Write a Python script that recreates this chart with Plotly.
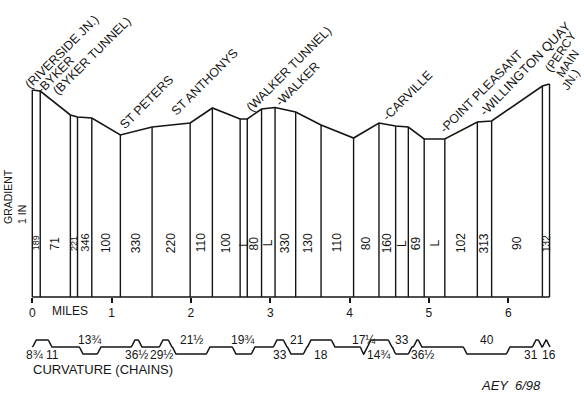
import numpy as np
import plotly.graph_objects as go

# ---------------- data ----------------
# segment boundaries along the line (miles) and profile level (relative diagram units)
boundary_miles = [0.00, 0.10, 0.48, 0.57, 0.75, 1.11, 1.51, 1.99, 2.27, 2.62, 2.71, 2.89,
                  3.06, 3.32, 3.64, 4.05, 4.37, 4.58, 4.74, 4.94, 5.20, 5.61, 5.79, 6.43, 6.52]
profile_level = [207, 206, 182, 180, 179, 162, 170, 174, 189, 178, 178, 188,
                 189.5, 185, 172, 159, 174, 171, 170, 158, 158, 175, 176, 211, 213]
gradient_labels = ["189", "71", "221", "346", "100", "330", "220", "110", "100", "L", "80", "L",
                   "330", "130", "110", "80", "160", "L", "69", "L", "102", "313", "90", "132"]

mile_ticks = [0, 1, 2, 3, 4, 5, 6]
mile_tick_labels = ["0", "1", "2", "3", "4", "5", "6"]

station_names = ["(RIVERSIDE JN.)", "-BYKER", "(BYKER TUNNEL)", "ST PETERS", "ST ANTHONYS",
                 "(WALKER TUNNEL)", "-WALKER", "-CARVILLE", "-POINT PLEASANT",
                 "-WILLINGTON QUAY", "(PERCY|MAIN|JN.)"]
station_miles = [0.00, 0.10, 0.19, 1.11, 1.84, 2.65, 3.07, 4.41, 5.14, 5.64, 6.52]

# curvature: start / end (miles), direction (+1 up, -1 down), radius label (chains)
curve_start = [0.00, 0.589, 1.244, 1.597, 1.761, 2.517, 3.034, 3.211, 3.463, 4.131, 4.219,
               4.534, 4.799, 5.429, 6.299, 6.425]
curve_end = [0.248, 0.866, 1.383, 1.761, 2.240, 2.807, 3.211, 3.463, 3.816, 4.219, 4.534,
             4.786, 4.912, 6.022, 6.425, 6.526]
curve_dir = [1, -1, 1, 1, -1, -1, 1, -1, 1, -1, 1, -1, 1, -1, 1, 1]
curve_labels = ["8¾ 11", "13¾", "36½", "29½", "21½", "19¾", "33", "21", "18", "17¼", "14¾",
                "33", "36½", "40", "31", "16"]

# ---------------- styling ----------------
W, H = 584, 398
PX_PER_MILE = 79.33
X0_PX = 32.3
BASE_PX = 297
x_range = [-X0_PX / PX_PER_MILE, (W - X0_PX) / PX_PER_MILE]
y_range = [BASE_PX - H, BASE_PX]
INK = "#151515"
FONT = "Liberation Sans"

fig = go.Figure()

# baseline
fig.add_trace(go.Scatter(x=[boundary_miles[0], boundary_miles[-1]], y=[0, 0], mode="lines",
                         line=dict(color=INK, width=1.6), hoverinfo="skip"))

# vertical division lines
vx, vy = [], []
for m, h in zip(boundary_miles, profile_level):
    vx += [m, m, None]
    vy += [0, h, None]
fig.add_trace(go.Scatter(x=vx, y=vy, mode="lines", line=dict(color=INK, width=1.4),
                         hoverinfo="skip"))

# profile line
fig.add_trace(go.Scatter(x=boundary_miles, y=profile_level, mode="lines",
                         line=dict(color=INK, width=1.6), hoverinfo="skip"))

# curvature diagram
CURVE_BASE = -50
CURVE_H = 7
side = 4.0 / PX_PER_MILE
cx, cy = [curve_start[0]], [CURVE_BASE]
t = np.linspace(0, 1, 8)
for a, b, d in zip(curve_start, curve_end, curve_dir):
    s = min(side, (b - a) / 2)
    cx.append(a); cy.append(CURVE_BASE)
    up = CURVE_BASE + d * CURVE_H * (1 - np.cos(np.pi * t)) / 2
    cx += list(a + s * t); cy += list(up)
    cx += list(b - s + s * t); cy += list(up[::-1])
cx.append(curve_end[-1]); cy.append(CURVE_BASE)
fig.add_trace(go.Scatter(x=cx, y=cy, mode="lines", line=dict(color=INK, width=1.5),
                         hoverinfo="skip"))

ann = []
# gradient labels
small = {0: 9, 2: 9, 3: 11, 23: 10}
for i, lab in enumerate(gradient_labels):
    mid = (boundary_miles[i] + boundary_miles[i + 1]) / 2
    ann.append(dict(x=mid, y=54, text=lab, textangle=-90, showarrow=False,
                    xanchor="center", yanchor="middle",
                    font=dict(size=small.get(i, 12), color=INK, family=FONT)))

# station labels: (dx, dy) px offsets of each text line from the station point, font, angle
label_style = [
    ([(29.7, 38)], 12.5, -45), ([(15, 16.5)], 12.5, -45), ([(44.6, 40.7)], 12.5, -45),
    ([(26.6, 33)], 12.5, -45), ([(26.7, 42)], 12.5, -45), ([(46.5, 50)], 12.5, -45),
    ([(22, 24)], 12.5, -45), ([(25, 28)], 12.5, -45), ([(41, 47)], 12.5, -45),
    ([(46, 53)], 13, -46), ([(11, 32), (18, 20), (21, 4)], 12, -56),
]
for name, m, (offs, fs, ang) in zip(station_names, station_miles, label_style):
    lvl = float(np.interp(m, boundary_miles, profile_level))
    for line, (dx, dy) in zip(name.split("|"), offs):
        ann.append(dict(x=m, y=lvl, xshift=dx, yshift=dy, text=line, textangle=ang,
                        showarrow=False, xanchor="center", yanchor="middle",
                        font=dict(size=fs, color=INK, family=FONT)))

# curvature labels (small horizontal nudges in px to avoid collisions)
nudge = {3: -4, 12: 5, 14: -6, 15: 3}
for i, (a, b, d, lab) in enumerate(zip(curve_start, curve_end, curve_dir, curve_labels)):
    ann.append(dict(x=(a + b) / 2, y=CURVE_BASE + (-8 if d > 0 else 7), text=lab,
                    xshift=nudge.get(i, 0), showarrow=False, xanchor="center",
                    yanchor="middle", font=dict(size=12, color=INK, family=FONT)))

# fixed texts
ann.append(dict(x=0.47, y=BASE_PX - 311, text="MILES", showarrow=False,
                xanchor="center", yanchor="middle", font=dict(size=12, color=INK, family=FONT)))
ann.append(dict(x=-0.02, y=BASE_PX - 369, text="CURVATURE (CHAINS)", showarrow=False,
                xanchor="left", yanchor="middle", font=dict(size=13, color=INK, family=FONT)))
ann.append(dict(x=(15 - X0_PX) / PX_PER_MILE, y=BASE_PX - 197, text="GRADIENT<br>1 IN",
                textangle=-90, align="left", showarrow=False, xanchor="center",
                yanchor="middle", font=dict(size=10.5, color=INK, family=FONT)))
ann.append(dict(x=(511 - X0_PX) / PX_PER_MILE, y=BASE_PX - 385, text="AEY  6/98",
                showarrow=False, xanchor="center", yanchor="middle",
                font=dict(size=13, color=INK, family=FONT, style="italic")))

fig.update_layout(
    width=W, height=H, margin=dict(l=0, r=0, t=0, b=0),
    paper_bgcolor="white", plot_bgcolor="white", showlegend=False,
    annotations=ann,
    xaxis=dict(range=x_range, domain=[0, 1], anchor="free", position=(H - BASE_PX) / H,
               showgrid=False, zeroline=False, showline=False, ticks="outside", ticklen=5,
               tickwidth=1.5, tickcolor=INK, tickvals=mile_ticks, ticktext=mile_tick_labels,
               tickfont=dict(size=12, color=INK, family=FONT), automargin=False, fixedrange=True),
    yaxis=dict(range=y_range, domain=[0, 1], visible=False, fixedrange=True),
)

fig.write_html("out.html", config={"displayModeBar": False},
               post_script="document.body.style.margin='0';document.body.style.overflow='hidden';")
